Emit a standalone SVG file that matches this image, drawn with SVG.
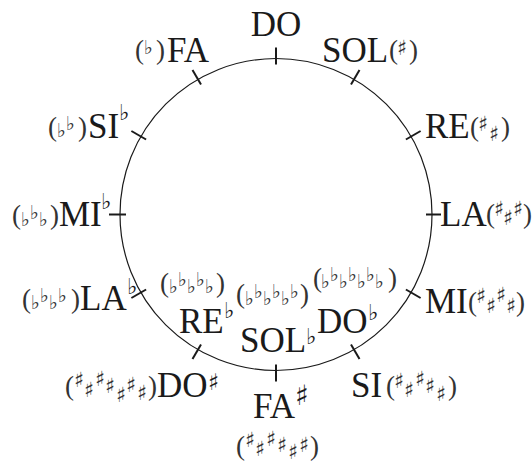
<svg xmlns="http://www.w3.org/2000/svg" width="532" height="463" viewBox="0 0 532 463">
<style>
.lbl{font-family:"Liberation Serif","Times New Roman",serif;font-size:35px;fill:#1a1a1a}
.par{font-family:"Liberation Serif","Times New Roman",serif;font-size:27px;fill:#333}
.fl{font-family:"DejaVu Sans",sans-serif;font-size:19px;fill:#333}
.sh{font-family:"DejaVu Sans",sans-serif;font-size:21px;fill:#333}
.sup{font-family:"DejaVu Sans",sans-serif;font-size:22px;fill:#1a1a1a}
.big{font-family:"DejaVu Sans",sans-serif;font-size:28px;fill:#1a1a1a}
.tick{stroke:#1a1a1a;stroke-width:2;fill:none}
.ring{stroke:#1a1a1a;stroke-width:1.2;fill:none}
</style>
<g id="connectors">
<circle class="ring" cx="276" cy="214.5" r="156"/>
<line class="tick" x1="276" y1="64.5" x2="276" y2="47.5"/>
<line class="tick" x1="351" y1="84.6" x2="359.5" y2="69.9"/>
<line class="tick" x1="405.9" y1="139.5" x2="420.6" y2="131"/>
<line class="tick" x1="426" y1="214.5" x2="441" y2="214.5"/>
<line class="tick" x1="405.9" y1="289.5" x2="420.6" y2="298"/>
<line class="tick" x1="351" y1="344.4" x2="359.5" y2="359.1"/>
<line class="tick" x1="276" y1="364.5" x2="276" y2="381.5"/>
<line class="tick" x1="201" y1="344.4" x2="192.5" y2="359.1"/>
<line class="tick" x1="146.1" y1="289.5" x2="131.4" y2="298"/>
<line class="tick" x1="126" y1="214.5" x2="109" y2="214.5"/>
<line class="tick" x1="146.1" y1="139.5" x2="131.4" y2="131"/>
<line class="tick" x1="201" y1="84.6" x2="192.5" y2="69.9"/>
</g>
<g id="n-do">
<text class="lbl" x="276" y="36" text-anchor="middle">DO</text>
</g>
<g id="n-fa">
<text class="par"><tspan x="135" y="59">(</tspan><tspan x="156" y="59">)</tspan></text>
<text class="fl"><tspan x="144" y="54">♭</tspan></text>
<text class="lbl" x="167" y="62">FA</text>
</g>
<g id="n-sol">
<text class="lbl" x="322" y="62">SOL</text>
<text class="par"><tspan x="389" y="59">(</tspan><tspan x="409" y="59">)</tspan></text>
<text class="sh"><tspan x="397" y="55">♯</tspan></text>
</g>
<g id="n-re">
<text class="lbl" x="425" y="138">RE</text>
<text class="par"><tspan x="470" y="136">(</tspan><tspan x="501" y="136">)</tspan></text>
<text class="sh"><tspan x="478" y="131">♯</tspan><tspan x="489" y="141">♯</tspan></text>
</g>
<g id="n-la">
<text class="lbl" x="440" y="226">LA</text>
<text class="par"><tspan x="486" y="223">(</tspan><tspan x="523" y="223">)</tspan></text>
<text class="sh"><tspan x="494" y="216">♯</tspan><tspan x="503" y="225">♯</tspan><tspan x="513" y="216">♯</tspan></text>
</g>
<g id="n-mi">
<text class="lbl" x="425" y="313">MI</text>
<text class="par"><tspan x="468" y="311">(</tspan><tspan x="516" y="311">)</tspan></text>
<text class="sh"><tspan x="476" y="303">♯</tspan><tspan x="486" y="313">♯</tspan><tspan x="496" y="302">♯</tspan><tspan x="506" y="313">♯</tspan></text>
</g>
<g id="n-si">
<text class="lbl" x="351" y="397">SI</text>
<text class="par"><tspan x="386" y="395">(</tspan><tspan x="448" y="395">)</tspan></text>
<text class="sh"><tspan x="394" y="388">♯</tspan><tspan x="404" y="397">♯</tspan><tspan x="415" y="386">♯</tspan><tspan x="425" y="393">♯</tspan><tspan x="436" y="401">♯</tspan></text>
</g>
<g id="n-fasharp">
<text class="lbl" x="253" y="418">FA</text>
<text class="big" x="295" y="405">♯</text>
<text class="par"><tspan x="236" y="455">(</tspan><tspan x="310" y="455">)</tspan></text>
<text class="sh"><tspan x="245" y="447">♯</tspan><tspan x="255" y="456">♯</tspan><tspan x="266" y="446">♯</tspan><tspan x="277" y="452">♯</tspan><tspan x="288" y="459">♯</tspan><tspan x="299" y="452">♯</tspan></text>
</g>
<g id="n-dosharp">
<text class="par"><tspan x="65" y="395">(</tspan><tspan x="148" y="395">)</tspan></text>
<text class="sh"><tspan x="74" y="387">♯</tspan><tspan x="84" y="397">♯</tspan><tspan x="95" y="386">♯</tspan><tspan x="105" y="393">♯</tspan><tspan x="116" y="402">♯</tspan><tspan x="126" y="392">♯</tspan><tspan x="137" y="400">♯</tspan></text>
<text class="lbl" x="157" y="397">DO</text>
<text class="big" x="208" y="390" style="font-size:23px">♯</text>
</g>
<g id="n-reflat">
<text class="par"><tspan x="160" y="292">(</tspan><tspan x="216" y="292">)</tspan></text>
<text class="fl"><tspan x="169" y="293">♭</tspan><tspan x="178" y="286">♭</tspan><tspan x="187" y="293">♭</tspan><tspan x="196" y="286">♭</tspan><tspan x="205" y="293">♭</tspan></text>
<text class="lbl" x="179" y="333">RE</text>
<text class="sup" x="224" y="318">♭</text>
</g>
<g id="n-solflat">
<text class="par"><tspan x="236" y="303">(</tspan><tspan x="300" y="303">)</tspan></text>
<text class="fl"><tspan x="245" y="305">♭</tspan><tspan x="254" y="298">♭</tspan><tspan x="263" y="305">♭</tspan><tspan x="272" y="298">♭</tspan><tspan x="281" y="305">♭</tspan><tspan x="290" y="298">♭</tspan></text>
<text class="lbl" x="240" y="352">SOL</text>
<text class="sup" x="306" y="344">♭</text>
</g>
<g id="n-doflat">
<text class="par"><tspan x="313" y="287">(</tspan><tspan x="388" y="287">)</tspan></text>
<text class="fl"><tspan x="321" y="288">♭</tspan><tspan x="330" y="281">♭</tspan><tspan x="339" y="288">♭</tspan><tspan x="348" y="281">♭</tspan><tspan x="357" y="288">♭</tspan><tspan x="366" y="281">♭</tspan><tspan x="375" y="288">♭</tspan></text>
<text class="lbl" x="317" y="333">DO</text>
<text class="sup" x="368" y="320">♭</text>
</g>
<g id="n-laflat">
<text class="par"><tspan x="22" y="308">(</tspan><tspan x="71" y="308">)</tspan></text>
<text class="fl"><tspan x="31" y="309">♭</tspan><tspan x="40" y="302">♭</tspan><tspan x="49" y="309">♭</tspan><tspan x="58" y="302">♭</tspan></text>
<text class="lbl" x="80" y="310">LA</text>
<text class="sup" x="127" y="294">♭</text>
</g>
<g id="n-miflat">
<text class="par"><tspan x="12" y="224">(</tspan><tspan x="50" y="224">)</tspan></text>
<text class="fl"><tspan x="21" y="226">♭</tspan><tspan x="30" y="219">♭</tspan><tspan x="39" y="226">♭</tspan></text>
<text class="lbl" x="59" y="226">MI</text>
<text class="sup" x="101" y="209">♭</text>
</g>
<g id="n-siflat">
<text class="par"><tspan x="48" y="136">(</tspan><tspan x="78" y="136">)</tspan></text>
<text class="fl"><tspan x="57" y="137">♭</tspan><tspan x="66" y="130">♭</tspan></text>
<text class="lbl" x="88" y="138">SI</text>
<text class="sup" x="119" y="120">♭</text>
</g>
</svg>
